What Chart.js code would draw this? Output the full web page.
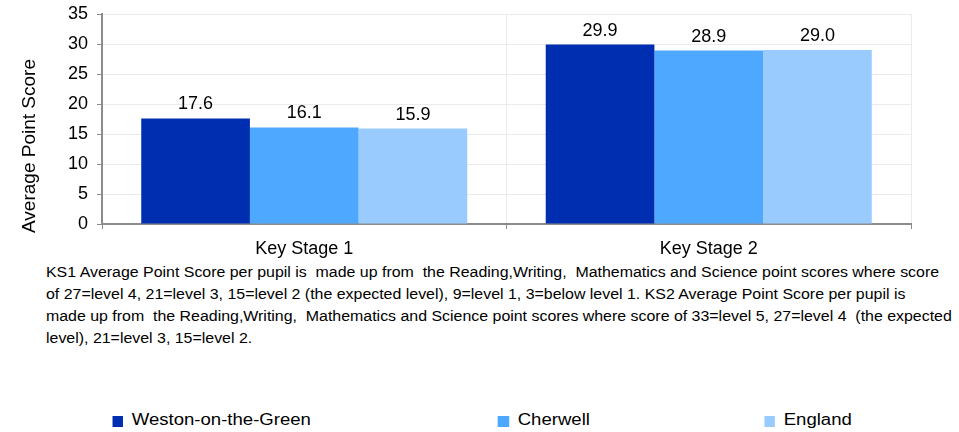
<!DOCTYPE html>
<html>
<head>
<meta charset="utf-8">
<script src="https://cdn.jsdelivr.net/npm/chart.js@4.4.1/dist/chart.umd.min.js"></script>
<style>
  html, body { margin: 0; padding: 0; background: #fff; overflow: hidden; }
  body { width: 959px; height: 432px; position: relative; font-family: 'Liberation Sans', Arial, sans-serif; }
  #chartWrap { position: absolute; left: 0; top: 0; width: 959px; height: 260px; }
  .stretch { position: absolute; left: 0; transform-origin: 0 0; white-space: nowrap; color: #000; }
  #footnote { top: 261px; left: 46px; font-size: 15.5px; line-height: 22px; transform: scaleX(1.027); }
  #legend { top: 412px; width: 830px; height: 20px; font-size: 16px; line-height: 16px; transform: scaleX(1.16); }
  .item { position: absolute; top: 0; }
  .box { position: absolute; top: 4px; width: 9.5px; height: 11px; }
  .txt { position: absolute; left: 17px; top: 0; }
</style>
</head>
<body>
<div id="chartWrap"><canvas id="chart" width="959" height="260"></canvas></div>
<div id="footnote" class="stretch"></div>
<div id="legend" class="stretch"></div>
<script>
const categories = ['Key Stage 1', 'Key Stage 2']
const seriesNames = ['Weston-on-the-Green', 'Cherwell', 'England']
const westonValues = [17.6, 29.9]
const cherwellValues = [16.1, 28.9]
const englandValues = [15.9, 29.0]
const seriesColors = ['#002EB0', '#4EA8FF', '#99CBFF']
const yMax = 35
const yStep = 5
const yTitle = 'Average Point Score'
const footnoteLines = [
  'KS1 Average Point Score per pupil is  made up from  the Reading,Writing,  Mathematics and Science point scores where score',
  'of 27=level 4, 21=level 3, 15=level 2 (the expected level), 9=level 1, 3=below level 1. KS2 Average Point Score per pupil is',
  'made up from  the Reading,Writing,  Mathematics and Science point scores where score of 33=level 5, 27=level 4  (the expected',
  'level), 21=level 3, 15=level 2.',
]
const legendLefts = [112, 498, 764]

const allValues = [westonValues, cherwellValues, englandValues]

const valueLabels = {
  id: 'valueLabels',
  afterDatasetsDraw(chart) {
    const ctx = chart.ctx
    ctx.save()
    ctx.font = '18px "Liberation Sans", Arial, sans-serif'
    ctx.fillStyle = '#000'
    ctx.textAlign = 'center'
    ctx.textBaseline = 'alphabetic'
    chart.data.datasets.forEach((ds, i) => {
      chart.getDatasetMeta(i).data.forEach((bar, j) => {
        ctx.fillText(ds.data[j].toFixed(1), bar.x, bar.y - 9)
      })
    })
    ctx.restore()
  }
}

const yTitlePlugin = {
  id: 'yTitle',
  afterDraw(chart) {
    const ctx = chart.ctx
    ctx.save()
    ctx.translate(30, 146)
    ctx.rotate(-Math.PI / 2)
    ctx.font = '19px "Liberation Sans", Arial, sans-serif'
    ctx.fillStyle = '#000'
    ctx.textAlign = 'center'
    ctx.textBaseline = 'middle'
    ctx.fillText(yTitle, 0, 0)
    ctx.restore()
  }
}

new Chart(document.getElementById('chart'), {
  type: 'bar',
  data: {
    labels: categories,
    datasets: seriesNames.map((name, i) => ({
      label: name,
      data: allValues[i],
      backgroundColor: seriesColors[i],
      categoryPercentage: 0.806,
      barPercentage: 1,
    }))
  },
  options: {
    responsive: false,
    animation: false,
    layout: { padding: { top: 14, right: 48, left: 0, bottom: 0 } },
    plugins: {
      legend: { display: false },
      tooltip: { enabled: false },
    },
    scales: {
      x: {
        grid: { color: '#ebebeb', tickColor: '#8c8c8c', tickLength: 5, offset: true },
        border: { color: '#8c8c8c', width: 2 },
        ticks: { color: '#000', padding: 9, font: { size: 18, family: '"Liberation Sans", Arial, sans-serif' } },
        afterFit: (scale) => { scale.height = 36 },
      },
      y: {
        min: 0,
        max: yMax,
        grid: { color: '#ebebeb', tickColor: '#8c8c8c', tickLength: 5 },
        border: { color: '#8c8c8c', width: 2 },
        ticks: { stepSize: yStep, color: '#000', padding: 9, font: { size: 18, family: '"Liberation Sans", Arial, sans-serif' } },
        afterFit: (scale) => {
          scale.width = 102
          scale.paddingTop = 0
          scale.paddingBottom = 0
        },
      }
    }
  },
  plugins: [valueLabels, yTitlePlugin]
})

document.getElementById('footnote').innerHTML = footnoteLines
  .map(l => `<div>${l.replace(/  /g, ' &nbsp;')}</div>`).join('')

const k = 1.16
document.getElementById('legend').innerHTML = seriesNames.map((name, i) => `
  <div class="item" style="left:${(legendLefts[i] / k).toFixed(1)}px">
    <div class="box" style="background:${seriesColors[i]}"></div>
    <div class="txt">${name}</div>
  </div>`).join('')
</script>
</body>
</html>
